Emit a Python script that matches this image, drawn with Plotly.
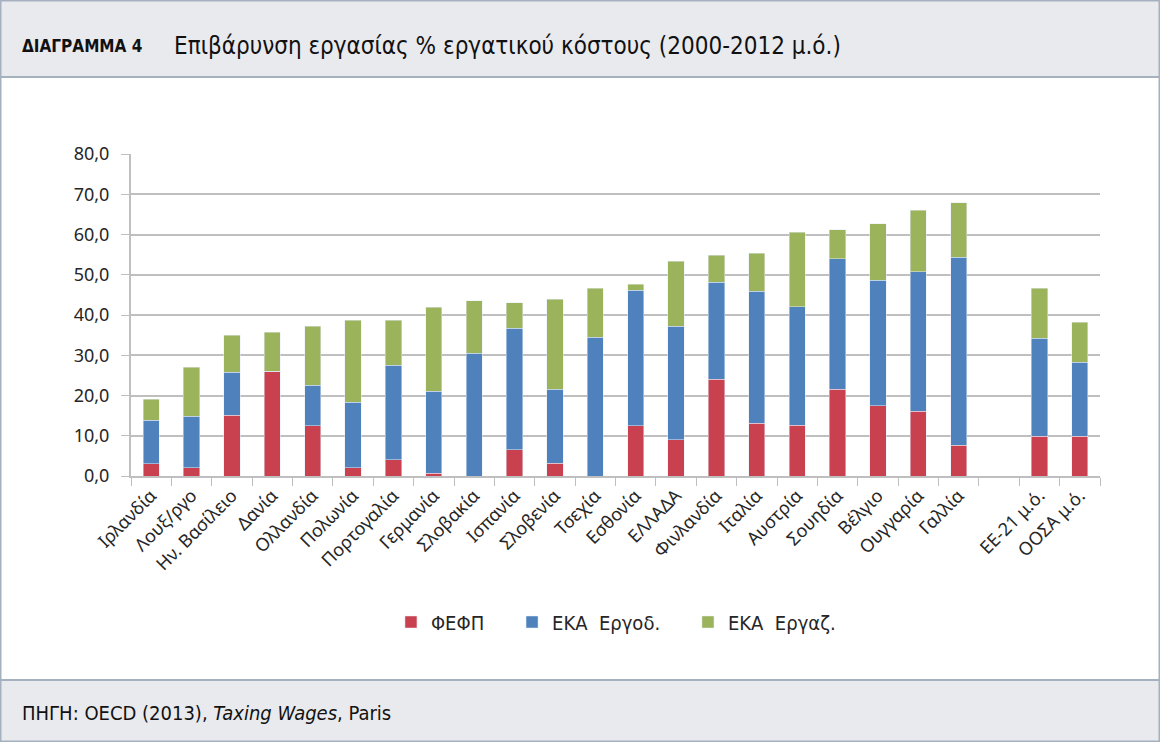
import plotly.graph_objects as go

# Categories (the blank one is the gap before the averages)
countries = ["Ιρλανδία", "Λουξ/ργο", "Ην. Βασίλειο", "Δανία", "Ολλανδία", "Πολωνία",
             "Πορτογαλία", "Γερμανία", "Σλοβακία", "Ισπανία", "Σλοβενία", "Τσεχία",
             "Εσθονία", "ΕΛΛΑΔΑ", "Φινλανδία", "Ιταλία", "Αυστρία", "Σουηδία",
             "Βέλγιο", "Ουγγαρία", "Γαλλία", " ", "ΕΕ-21 μ.ό.", "ΟΟΣΑ μ.ό."]

# Income tax (ΦΕΦΠ)
fefp = [3.1, 2.1, 15.1, 26.0, 12.5, 2.1, 4.1, 0.7, 0.0, 6.5, 3.2, 0.0,
        12.5, 9.0, 24.0, 13.1, 12.6, 21.6, 17.4, 16.1, 7.7, None, 9.9, 9.9]
# Employer social contributions (ΕΚΑ Εργοδ.)
eka_ergod = [10.8, 12.8, 10.7, 0.0, 10.1, 16.2, 23.4, 20.4, 30.5, 30.2, 18.4, 34.5,
             33.6, 28.2, 24.1, 32.8, 29.5, 32.4, 31.2, 34.7, 46.6, None, 24.3, 18.4]
# Employee social contributions (ΕΚΑ Εργαζ.)
eka_ergaz = [5.2, 12.1, 9.2, 9.7, 14.6, 20.4, 11.2, 20.8, 13.1, 6.4, 22.3, 12.1,
             1.5, 16.1, 6.7, 9.4, 18.4, 7.2, 14.1, 15.2, 13.6, None, 12.4, 9.9]

RED = "#C9414F"
BLUE = "#4F81BD"
GREEN = "#9BB35A"
TXT = "#262626"
FONT = "Noto Sans, DejaVu Sans, sans-serif"
NARROW = "DejaVu Sans Condensed, Liberation Sans Narrow, sans-serif"
PAD = "\u00a0" * 4  # extra room between legend entries

fig = go.Figure()
fig.add_trace(go.Bar(x=countries, y=fefp, name="ΦΕΦΠ" + PAD, marker_color=RED))
fig.add_trace(go.Bar(x=countries, y=eka_ergod, name="ΕΚΑ  Εργοδ." + PAD, marker_color=BLUE))
fig.add_trace(go.Bar(x=countries, y=eka_ergaz, name="ΕΚΑ  Εργαζ.", marker_color=GREEN))

W, H = 1160, 742

fig.update_layout(
    width=W, height=H,
    barmode="stack", bargap=0.6,
    separators=",.",
    paper_bgcolor="white", plot_bgcolor="white",
    margin=dict(l=0, r=0, t=0, b=0, autoexpand=False),
    font=dict(family=FONT, color=TXT, size=16),
    showlegend=True,
    legend=dict(orientation="h", traceorder="normal", x=0.531, xanchor="center",
                y=(H - 622) / H, yanchor="middle",
                font=dict(family=NARROW, size=20, color=TXT), itemwidth=30,
                bgcolor="rgba(0,0,0,0)"),
    xaxis=dict(domain=[131 / W, 1100 / W], type="category", tickangle=-45, automargin=False,
               tickson="boundaries", ticks="outside", ticklen=8, tickcolor="#BFBFBF",
               showline=True, linecolor="#BFBFBF", linewidth=2, showgrid=False,
               tickfont=dict(size=18, color=TXT, family=FONT)),
    yaxis=dict(domain=[(H - 476) / H, (H - 154) / H], range=[0, 80], dtick=10, automargin=False,
               tickformat=".1f", ticks="outside", ticklen=8, tickcolor="#BFBFBF",
               ticklabelstandoff=8,
               showline=True, linecolor="#BFBFBF", linewidth=2,
               gridcolor="#BFBFBF", gridwidth=2, zeroline=False,
               tickfont=dict(size=18, color=TXT, family=FONT)),
)

# header / footer bands and outer frame
border = "#A6B1C0"
fig.add_shape(type="rect", xref="paper", yref="paper", x0=0, x1=1, y0=(H - 77) / H, y1=1,
              fillcolor="#E9EAEE", line=dict(color=border, width=2), layer="below")
fig.add_shape(type="rect", xref="paper", yref="paper", x0=0, x1=1, y0=0, y1=(H - 680) / H,
              fillcolor="#E9EAEE", line=dict(color=border, width=2), layer="below")
fig.add_shape(type="rect", xref="paper", yref="paper", x0=0, x1=1, y0=0, y1=1,
              fillcolor="rgba(0,0,0,0)", line=dict(color=border, width=3))

fig.add_annotation(xref="paper", yref="paper", x=20 / W, y=(H - 46) / H, xanchor="left",
                   yanchor="middle", showarrow=False, text="<b>ΔΙΑΓΡΑΜΜΑ 4</b>",
                   font=dict(family=NARROW, size=17, color="#111"))
fig.add_annotation(xref="paper", yref="paper", x=172 / W, y=(H - 46) / H, xanchor="left",
                   yanchor="middle", showarrow=False,
                   text="Επιβάρυνση εργασίας % εργατικού κόστους (2000-2012 μ.ό.)",
                   font=dict(family=NARROW, size=24, color="#111"))
fig.add_annotation(xref="paper", yref="paper", x=20 / W, y=(H - 713) / H, xanchor="left",
                   yanchor="middle", showarrow=False,
                   text="ΠΗΓΗ: OECD (2013), <i>Taxing Wages</i>, Paris",
                   font=dict(family=NARROW, size=20, color="#111"))

fig.write_html("out.html", config={"displayModeBar": False},
               post_script="document.body.style.margin='0';")
